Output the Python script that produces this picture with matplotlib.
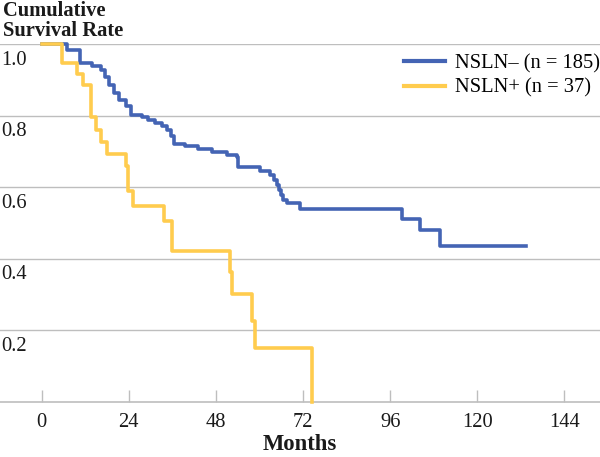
import matplotlib
matplotlib.use("Agg")
import matplotlib.pyplot as plt

plt.rcParams['font.family'] = ['Liberation Serif', 'DejaVu Serif']

# Kaplan-Meier steps (month, survival after the step)
neg_months = [0, 6.9, 10.6, 13.8, 16.3, 17.4, 18.6, 19.8, 21.4, 23.2, 24.7, 27.5, 29.4,
              31.2, 33.0, 34.4, 35.5, 36.3, 39.5, 43.1, 46.8, 51.0, 53.7, 54.2, 60.1,
              62.9, 64.1, 64.7, 65.4, 65.9, 66.6, 67.5, 71.2, 99.2, 104.2, 109.7, 133.4]
neg_surv = [1.0, 0.983, 0.946, 0.939, 0.927, 0.909, 0.885, 0.862, 0.844, 0.827, 0.802,
            0.795, 0.789, 0.779, 0.770, 0.761, 0.742, 0.722, 0.714, 0.706, 0.697, 0.691,
            0.683, 0.656, 0.644, 0.634, 0.620, 0.606, 0.592, 0.578, 0.564, 0.557, 0.539,
            0.511, 0.480, 0.437, 0.437]

pos_months = [0, 5.6, 9.7, 11.3, 13.7, 14.9, 16.2, 17.9, 23.2, 23.8, 25.2, 33.8, 35.8,
              51.8, 52.4, 57.9, 58.7, 74.5, 74.5]
pos_surv = [1.0, 0.946, 0.915, 0.885, 0.797, 0.760, 0.727, 0.693, 0.660, 0.588, 0.548,
            0.505, 0.421, 0.362, 0.303, 0.227, 0.150, 0.0, 0.0]

x_ticks = [0, 24, 48, 72, 96, 120, 144]
y_ticks = [0.2, 0.4, 0.6, 0.8, 1.0]
labels = ['NSLN\u2013 (n = 185)', 'NSLN+ (n = 37)']

blue = '#4464B4'
yellow = '#FFCC4E'
grid = '#BEBEBE'
txt = '#1a1a1a'
fs = 14.8

fig = plt.figure(figsize=(6.0, 4.57), dpi=100)
ax = fig.add_axes([0, 55 / 457, 1, 358 / 457])

ax.set_xlim(-11.5, 153.8)
ax.set_ylim(0, 1.0)

for v in y_ticks:
    ax.axhline(v, color=grid, lw=1.0, zorder=1)
    ax.text(0.002, v - 0.045, f'{v:.1f}', transform=ax.get_yaxis_transform(),
            ha='left', va='center', fontsize=fs, color=txt)

ax.step(neg_months, neg_surv, where='post', color=blue, lw=2.6, label=labels[0],
        clip_on=False, zorder=3)
ax.step(pos_months, pos_surv, where='post', color=yellow, lw=2.6, label=labels[1],
        clip_on=False, zorder=3)

for s in ['left', 'right', 'top']:
    ax.spines[s].set_visible(False)
ax.spines['bottom'].set_color(grid)
ax.spines['bottom'].set_linewidth(1.2)

ax.set_yticks([])
ax.set_xticks(x_ticks)
ax.tick_params(axis='x', direction='in', length=9, width=1, color=grid,
               labelsize=fs, labelcolor=txt, pad=8)

leg = ax.legend(loc='upper right', bbox_to_anchor=(1.0, (457 - 54) / 457),
                bbox_transform=fig.transFigure, frameon=False, fontsize=fs,
                handlelength=2.0, handletextpad=0.5, labelspacing=0.25,
                borderpad=0, borderaxespad=0)
for line in leg.get_lines():
    line.set_linewidth(3)

fig.text(0.005, 0.998, 'Cumulative\nSurvival Rate', ha='left', va='top',
         fontsize=fs, fontweight='bold', color=txt, linespacing=1.0)
fig.text(0.5, 2 / 457, 'Months', ha='center', va='bottom', fontsize=fs + 1.5,
         fontweight='bold', color=txt)

fig.savefig('out.png', dpi=100)
